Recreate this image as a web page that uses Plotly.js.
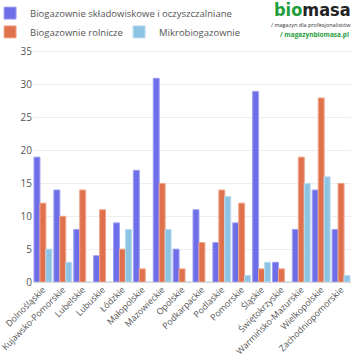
<!DOCTYPE html>
<html>
<head>
<meta charset="utf-8">
<script src="https://cdn.plot.ly/plotly-3.0.1.min.js"></script>
<style>html,body{margin:0;padding:0;background:#fff}#chart{width:356px;height:364px}</style>
</head>
<body>
<div id="chart"></div>
<script>
const categories = ["Dolnośląskie","Kujawsko-Pomorskie","Lubelskie","Lubuskie","Łódzkie","Małopolskie","Mazowieckie","Opolskie","Podkarpackie","Podlaskie","Pomorskie","Śląskie","Świętokrzyskie","Warmińsko-Mazurskie","Wielkopolskie","Zachodniopomorskie"];
const seriesNames = ["Biogazownie składowiskowe i oczyszczalniane","Biogazownie rolnicze","Mikrobiogazownie"];
const skladowiskowe = [19,14,8,4,9,17,31,5,11,6,9,29,3,8,14,8];
const rolnicze = [12,10,14,11,5,2,15,2,6,14,12,2,2,19,28,15];
const mikro = [5,3,0,0,8,0,8,0,0,13,1,3,0,15,16,1];
const yTicks = [0,5,10,15,20,25,30,35];

const colors = ["#6e6ee9","#e0714d","#8ec4e3"];
const lineColors = ["#a0a0f2","#f0a68c","#bcdcef"];
const legendIds = ["legend","legend2","legend2"];
const vals = [skladowiskowe, rolnicze, mikro];
const data = vals.map((v,i)=>({
  type:'bar', name:seriesNames[i], x:categories, y:v, legend:legendIds[i],
  marker:{color:colors[i], line:{color:lineColors[i], width:1}},
  hoverinfo:'x+y'
}));
const FONT = '"Open Sans", sans-serif';
const legendCommon = {orientation:'h', xanchor:'left', yanchor:'middle', bgcolor:'rgba(0,0,0,0)',
  font:{family:FONT, size:9.5, color:'#555'}, traceorder:'normal'};
const layout = {
  width:356, height:364,
  margin:{l:33, r:5, t:50, b:82, autoexpand:false},
  paper_bgcolor:'#fff', plot_bgcolor:'#fff',
  font:{family:FONT, size:10, color:'#555'},
  barmode:'group', bargap:0.1, bargroupgap:0,
  showlegend:true,
  legend:Object.assign({}, legendCommon, {x:-0.135, y:1.159}),
  legend2:Object.assign({}, legendCommon, {x:-0.135, y:1.078, entrywidth:84, entrywidthmode:'pixels'}),
  xaxis:{type:'category', tickangle:-45, tickfont:{family:FONT, size:8.8, color:'#555'}, showgrid:false,
    showline:false, ticks:'', automargin:false},
  yaxis:{range:[0,35.3], tickvals:yTicks, ticktext:yTicks.map(String), gridcolor:'#eeeeee', gridwidth:1,
    zeroline:true, zerolinecolor:'#d8d8d8', zerolinewidth:1, ticks:'', tickfont:{family:FONT, size:10,color:'#555'}, automargin:false},
  annotations:[
    {xref:'paper', yref:'paper', x:1.006, y:1.176, xanchor:'right', yanchor:'middle', showarrow:false,
     text:'<b><span style="color:#1f9e3c">bio</span><span style="color:#222">masa</span></b>',
     font:{family:'"Liberation Sans Narrow", "DejaVu Sans Condensed", Roboto, sans-serif', size:18}},
    {xref:'paper', yref:'paper', x:1.006, y:1.106, xanchor:'right', yanchor:'middle', showarrow:false,
     text:'/ magazyn dla profesjonalistów', font:{family:FONT, size:5.5, color:'#333'}},
    {xref:'paper', yref:'paper', x:1.0, y:1.068, xanchor:'right', yanchor:'middle', showarrow:false,
     text:'<b>/ magazynbiomasa.pl</b>', font:{family:FONT, size:6.5, color:'#1f9e3c'}}
  ]
};
Plotly.newPlot('chart', data, layout, {displayModeBar:false, staticPlot:true});
</script>
</body>
</html>
